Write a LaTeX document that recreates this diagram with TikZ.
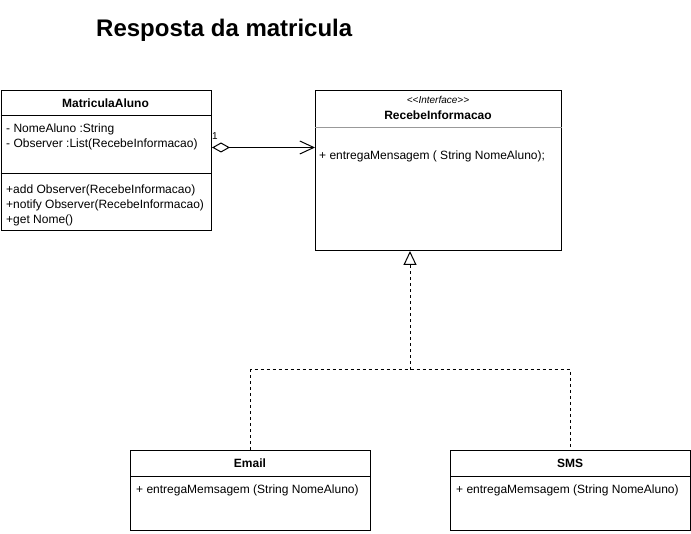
\documentclass[tikz,border=0pt]{standalone}
\usepackage{fontspec}
\setmainfont{Liberation Sans}
\usetikzlibrary{arrows.meta}

\tikzset{
	classbox/.style={draw, line width=1pt, fill=white, anchor=north west, inner sep=0pt},
	classname/.style={font=\bfseries\fontsize{12}{14}\selectfont, inner sep=0pt},
	member/.style={anchor=west, font=\fontsize{12}{14}\selectfont, inner sep=0pt},
	realiza/.style={line width=1pt, dash pattern=on 3pt off 3pt},
}

\begin{document}
\begin{tikzpicture}[x=1pt,y=-1pt]
		\useasboundingbox (0,0) rectangle (691,534);
		
		% Title
		\node[anchor=west, inner sep=0pt, font=\bfseries\fontsize{24}{28}\selectfont] (titulo) at (96,30) {Resposta da matricula};
		
		% MatriculaAluno
		\node[classbox, minimum width=210.5pt, minimum height=140pt] (aluno) at (0.5,90) {};
		\draw[line width=1pt] ([yshift=-26pt]aluno.north west) -- ([yshift=-26pt]aluno.north east);
		\draw[line width=1pt] ([yshift=-84pt]aluno.north west) -- ([yshift=-84pt]aluno.north east);
		\node[classname] (alunonome) at (105.5,103) {MatriculaAluno};
		\node[member] (alunoatr1) at (6,129) {- NomeAluno :String};
		\node[member] (alunoatr2) at (6,144) {- Observer :List(RecebeInformacao)};
		\node[member] (alunomet1) at (6,190) {+add Observer(RecebeInformacao)};
		\node[member] (alunomet2) at (6,205) {+notify Observer(RecebeInformacao)};
		\node[member] (alunomet3) at (6,220) {+get Nome()};
		
		% RecebeInformacao
		\node[classbox, minimum width=246pt, minimum height=160pt] (recebe) at (315,90) {};
		\draw[line width=1pt, black!40] ([yshift=-38pt]recebe.north west) -- ([yshift=-38pt]recebe.north east);
		\node[inner sep=0pt, font=\itshape\fontsize{10}{12}\selectfont] (recebeest) at (438,100) {<{}<Interface>{}>};
		\node[classname] (recebenome) at (438,115) {RecebeInformacao};
		\node[member] (recebemet1) at (319,156) {+ entregaMensagem ( String NomeAluno);};
		
		% Email
		\node[classbox, minimum width=240pt, minimum height=80pt] (email) at (130,450) {};
		\draw[line width=1pt] ([yshift=-26pt]email.north west) -- ([yshift=-26pt]email.north east);
		\node[classname] (emailnome) at (250,463) {Email};
		\node[member] (emailmet1) at (136,490) {+ entregaMemsagem (String NomeAluno)};
		
		% SMS
		\node[classbox, minimum width=240pt, minimum height=80pt] (sms) at (450,450) {};
		\draw[line width=1pt] ([yshift=-26pt]sms.north west) -- ([yshift=-26pt]sms.north east);
		\node[classname] (smsnome) at (570,463) {SMS};
		\node[member] (smsmet1) at (456,490) {+ entregaMemsagem (String NomeAluno)};
		
		% Aggregation
		\draw[line width=1pt, {Diamond[open, length=18pt, width=10pt]}-{Straight Barb[length=14pt, width=13pt]}]
			([yshift=13pt]aluno.east) -- ([yshift=23pt]recebe.west);
		\node[anchor=south west, inner sep=0pt, font=\fontsize{10}{12}\selectfont] (mult) at (212,140) {1};
		
		% Realization
		\coordinate (juncao) at (410,370);
		\draw[realiza] (email.north) |- (juncao) -| (sms.north);
		\draw[realiza, -{Triangle[open, length=14pt, width=13pt]}] (juncao) -- (juncao |- recebe.south);
	\end{tikzpicture}
\end{document}
